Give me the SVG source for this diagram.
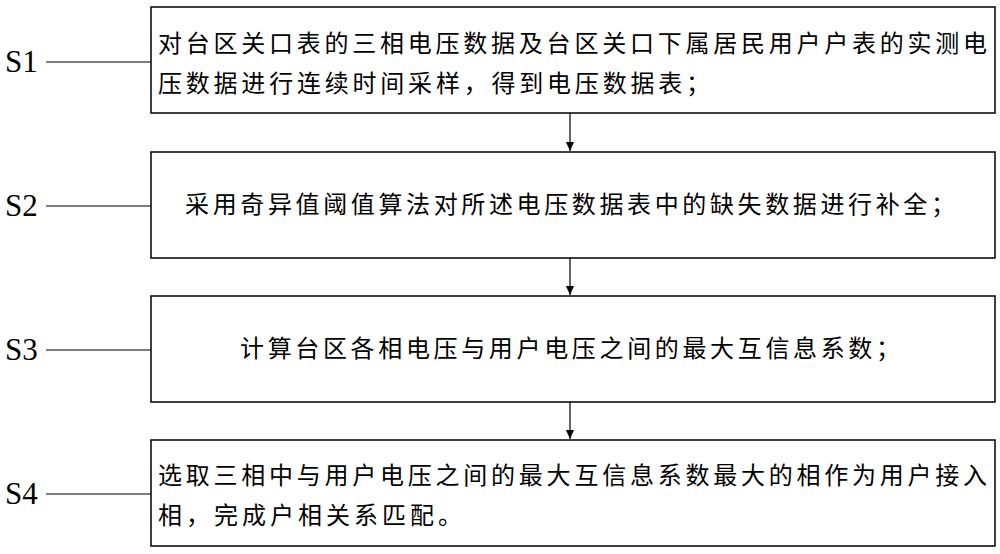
<svg xmlns="http://www.w3.org/2000/svg" width="1000" height="554" viewBox="0 0 1000 554">
<style>
.b{fill:#fff;stroke:#000;stroke-width:1.5}
.t{font-family:"Noto Sans CJK SC",sans-serif;font-size:24px;fill:#000}
.s{font-family:"Liberation Serif",serif;font-size:31px;fill:#000}
.l{stroke:#000;stroke-width:1.2;fill:none}
</style>
<defs><marker id="a" markerWidth="10" markerHeight="10" refX="9" refY="5" orient="auto" markerUnits="userSpaceOnUse"><path d="M0,1 L9,5 L0,9 Z" fill="#000"/></marker></defs>
<rect width="1000" height="554" fill="#fff"/>
<g id="n1"><rect class="b" x="151" y="7" width="844" height="106"/>
<text class="t" x="158" y="52" textLength="829" lengthAdjust="spacing">对台区关口表的三相电压数据及台区关口下属居民用户户表的实测电</text>
<text class="t" x="158" y="92" textLength="552" lengthAdjust="spacing">压数据进行连续时间采样，得到电压数据表；</text>
<text class="s" x="5" y="72">S1</text></g>
<g id="n2"><rect class="b" x="151" y="152" width="844" height="106"/>
<text class="t" x="185" y="213" textLength="770" lengthAdjust="spacing">采用奇异值阈值算法对所述电压数据表中的缺失数据进行补全；</text>
<text class="s" x="5" y="216">S2</text></g>
<g id="n3"><rect class="b" x="151" y="296" width="844" height="106"/>
<text class="t" x="240" y="357" textLength="660" lengthAdjust="spacing">计算台区各相电压与用户电压之间的最大互信息系数；</text>
<text class="s" x="5" y="360">S3</text></g>
<g id="n4"><rect class="b" x="151" y="440" width="844" height="106"/>
<text class="t" x="158" y="484" textLength="829" lengthAdjust="spacing">选取三相中与用户电压之间的最大互信息系数最大的相作为用户接入</text>
<text class="t" x="158" y="524" textLength="304" lengthAdjust="spacing">相，完成户相关系匹配。</text>
<text class="s" x="5" y="504">S4</text></g>
<g id="connectors">
<line class="l" x1="46" y1="62" x2="151" y2="62"/>
<line class="l" x1="46" y1="206" x2="151" y2="206"/>
<line class="l" x1="46" y1="350" x2="151" y2="350"/>
<line class="l" x1="46" y1="494" x2="151" y2="494"/>
<line class="l" x1="570" y1="113" x2="570" y2="151" marker-end="url(#a)"/>
<line class="l" x1="570" y1="258" x2="570" y2="295" marker-end="url(#a)"/>
<line class="l" x1="570" y1="402" x2="570" y2="439" marker-end="url(#a)"/>
</g>
</svg>
